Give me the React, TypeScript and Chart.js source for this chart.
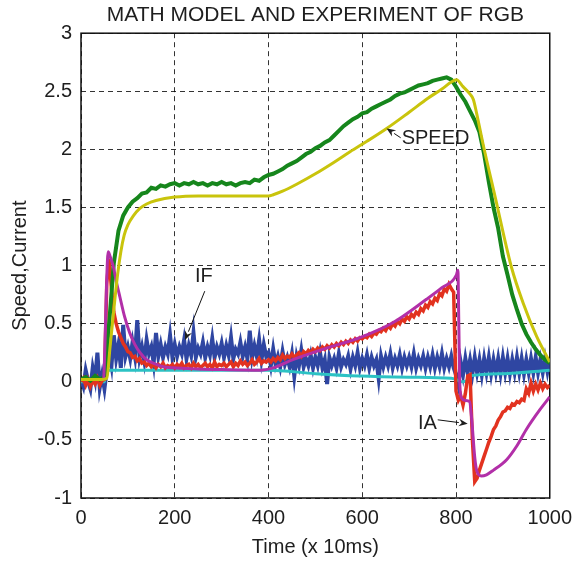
import React, { useEffect, useRef } from 'react';
import { Chart, registerables } from 'chart.js';

Chart.register(...registerables);

const TITLE = 'MATH MODEL AND EXPERIMENT OF RGB';
const X_LABEL = 'Time (x 10ms)';
const Y_LABEL = 'Speed,Current';
const xTicks = [0, 200, 400, 600, 800, 1000];
const yTicks = [-1, -0.5, 0, 0.5, 1, 1.5, 2, 2.5, 3];

// Model speed (yellow)
const speedModelT = [0, 45, 55, 62, 70, 78, 85, 92, 100, 112, 125, 140, 160, 200, 250, 300, 400, 410, 430, 460, 500, 540, 574, 610, 652, 700, 740, 770, 790, 801, 815, 829, 837, 844, 858, 883, 918, 943, 972, 1000];
const speedModelV = [0.02, 0.02, 0.03, 0.3, 0.62, 0.92, 1.12, 1.26, 1.35, 1.43, 1.49, 1.53, 1.56, 1.59, 1.6, 1.6, 1.6, 1.61, 1.64, 1.7, 1.79, 1.89, 1.98, 2.07, 2.18, 2.32, 2.44, 2.52, 2.58, 2.6, 2.54, 2.48, 2.43, 2.31, 2.04, 1.6, 0.99, 0.68, 0.39, 0.17];

// Experimental speed (green), sampled every 10
const SPEED_EXP_STEP = 10;
const speedExp = [
  0.02, 0.04, 0.01, 0.05, 0.02, 0.04, 0.5, 1.02, 1.3, 1.43,
  1.5, 1.55, 1.58, 1.62, 1.63, 1.67, 1.66, 1.69, 1.68, 1.7,
  1.71, 1.69, 1.71, 1.7, 1.72, 1.7, 1.71, 1.69, 1.71, 1.7,
  1.72, 1.7, 1.71, 1.69, 1.71, 1.72, 1.71, 1.74, 1.73, 1.76,
  1.78, 1.79, 1.81, 1.83, 1.86, 1.88, 1.9, 1.93, 1.96, 1.98,
  2.01, 2.03, 2.06, 2.08, 2.12, 2.16, 2.2, 2.23, 2.26, 2.28,
  2.31, 2.32, 2.35, 2.37, 2.39, 2.41, 2.43, 2.46, 2.48, 2.49,
  2.51, 2.53, 2.55, 2.56, 2.57, 2.59, 2.6, 2.61, 2.62, 2.6,
  2.54, 2.47, 2.41, 2.33, 2.25, 2.15, 1.96, 1.72, 1.5, 1.32,
  1.08, 0.92, 0.75, 0.62, 0.5, 0.41, 0.34, 0.28, 0.23, 0.19,
  0.16,
];

// Experimental field current IF (blue), sampled every 5
const IF_EXP_STEP = 5;
const ifExp = [
  0.02, -0.04, 0.1, 0.01, -0.06, 0.12, 0.02, 0.25, -0.05, 0.06, -0.06, 0.1,
  0.26, 0.14, 0.4, 0.2, 0.32, 0.12, 0.49, 0.22,
  0.3, 0.2, 0.34, 0.22, 0.53, 0.21, 0.3, 0.18, 0.36, 0.24, 0.3, 0.16, 0.42, 0.22, 0.32, 0.21, 0.3, 0.24, 0.4, 0.21,
  0.32, 0.22, 0.3, 0.24, 0.36, 0.2, 0.31, 0.23, 0.42, 0.21, 0.29, 0.24, 0.34, 0.21, 0.3, 0.23, 0.37, 0.21, 0.3, 0.24,
  0.33, 0.21, 0.31, 0.23, 0.38, 0.2, 0.28, 0.24, 0.34, 0.22, 0.3, 0.2, 0.44, 0.21, 0.31, 0.22, 0.36, 0.19, 0.32, 0.22,
  0.25, 0.14, 0.28, 0.15, 0.22, 0.13, 0.26, 0.15, 0.21, 0.13, 0.24, 0.05, 0.22, 0.14, 0.27, 0.13, 0.2, 0.14, 0.23, 0.12,
  0.21, 0.14, 0.25, 0.12, 0.19, -0.02, 0.21, 0.14, 0.2, 0.12, 0.24, 0.13, 0.19, 0.15, 0.22, 0.11, 0.21, 0.14, 0.25, 0.12,
  0.2, 0.14, 0.23, 0.12, 0.21, 0.14, 0.19, 0.03, 0.22, 0.13, 0.21, 0.14, 0.24, 0.12, 0.2, 0.14, 0.23, 0.12, 0.21, 0.14,
  0.21, 0.13, 0.24, 0.12, 0.2, 0.14, 0.22, 0.12, 0.21, 0.13, 0.23, 0.12, 0.21, 0.13, 0.24, 0.12, 0.2, 0.13, 0.22, 0.12,
  0.06, -0.03, 0.17, 0.06, 0.2, 0.08, 0.19, 0.07, 0.21, 0.08, 0.19, 0.06, 0.2, 0.08, 0.21, 0.07, 0.19, 0.08, 0.2, 0.07,
  0.21, 0.08, 0.2, 0.07, 0.19, 0.08, 0.21, 0.08, 0.2, 0.07, 0.19, 0.08, 0.2, 0.08, 0.21, 0.08, 0.19, 0.08, 0.2, 0.09, 0.2,
];

// Model field current IF (cyan)
const ifModelT = [0, 50, 53, 57, 400, 500, 595, 700, 790, 800, 812, 825, 829, 900, 1000];
const ifModelV = [0.0, 0.0, 0.08, 0.1, 0.1, 0.07, 0.05, 0.04, 0.03, 0.02, 0.0, 0.01, 0.05, 0.07, 0.1];

// Experimental armature current IA (red), sampled every 5
const IA_EXP_STEP = 5;
const iaExp = [
  0.0, 0.03, -0.03, 0.02, -0.04, 0.01, -0.02, 0.03, -0.03, 0.01,
  0.02, 0.85, 1.06, 0.8, 0.6, 0.5, 0.43, 0.38, 0.33, 0.3,
  0.26, 0.25, 0.21, 0.22, 0.18, 0.2, 0.16, 0.17, 0.14, 0.16, 0.13, 0.15, 0.12, 0.15, 0.13, 0.16, 0.12, 0.14, 0.13, 0.15,
  0.12, 0.15, 0.13, 0.16, 0.12, 0.14, 0.15, 0.12, 0.16, 0.13, 0.15, 0.12, 0.14, 0.16, 0.13, 0.15, 0.12, 0.17, 0.13, 0.15,
  0.14, 0.16, 0.13, 0.15, 0.17, 0.13, 0.16, 0.14, 0.18, 0.15, 0.17, 0.14, 0.16, 0.19, 0.15, 0.17, 0.2, 0.16, 0.18, 0.17,
  0.19, 0.17, 0.2, 0.18, 0.21, 0.19, 0.23, 0.2, 0.22, 0.21, 0.24, 0.21, 0.23, 0.25, 0.22, 0.26, 0.24, 0.27, 0.25, 0.28,
  0.26, 0.29, 0.27, 0.3, 0.28, 0.31, 0.29, 0.32, 0.3, 0.33, 0.31, 0.34, 0.32, 0.35, 0.33, 0.36, 0.34, 0.37, 0.35, 0.38,
  0.37, 0.39, 0.38, 0.41, 0.39, 0.42, 0.41, 0.44, 0.43, 0.46, 0.44, 0.48, 0.46, 0.5, 0.48, 0.52, 0.5, 0.54, 0.52, 0.56,
  0.54, 0.58, 0.56, 0.6, 0.58, 0.63, 0.61, 0.66, 0.64, 0.69, 0.67, 0.72, 0.7, 0.76, 0.74, 0.8, 0.78, 0.84, 0.8, 0.77,
  -0.08, -0.16, -0.12, -0.2, -0.1, 0.05, 0.06, -0.5, -0.86, -0.83, -0.76, -0.7, -0.64, -0.58, -0.52, -0.47, -0.41, -0.38, -0.33, -0.3,
  -0.26, -0.25, -0.22, -0.23, -0.19, -0.2, -0.17, -0.18, -0.15, -0.16, -0.06, -0.1, -0.01, -0.08, -0.02, -0.07, -0.01, -0.06, -0.02, -0.05, -0.03,
];

// Model armature current IA (magenta)
const iaModelT = [0, 48, 52, 55, 58, 62, 69, 76, 83, 93, 104, 115, 126, 140, 154, 175, 197, 250, 300, 382, 410, 452, 524, 595, 666, 737, 770, 801, 804, 806, 808, 812, 820, 829, 833, 840, 844, 854, 865, 880, 908, 930, 950, 979, 1000];
const iaModelV = [0.02, 0.02, 0.45, 0.9, 1.12, 1.08, 0.99, 0.85, 0.73, 0.56, 0.42, 0.32, 0.25, 0.19, 0.16, 0.13, 0.12, 0.11, 0.105, 0.1, 0.12, 0.19, 0.29, 0.38, 0.51, 0.71, 0.81, 0.92, 0.96, 0.5, -0.01, -0.14, -0.16, -0.17, -0.3, -0.65, -0.76, -0.81, -0.8, -0.76, -0.67, -0.55, -0.41, -0.24, -0.13];

// Text annotations with arrows (data coordinates)
const annotations = [
  { label: 'SPEED', textX: 684, textY: 2.09, align: 'left', fromX: 682, fromY: 2.1, toX: 652, toY: 2.18 },
  { label: 'IF', textX: 262, textY: 0.91, align: 'center', fromX: 264, fromY: 0.78, toX: 222, toY: 0.36 },
  { label: 'IA', textX: 739, textY: -0.355, align: 'center', fromX: 761, fromY: -0.327, toX: 825, toY: -0.361 },
];

const FONT = "'Liberation Sans', Arial, Helvetica, sans-serif";
const TEXT = '#1e1e1e';

const pairs = (t: number[], v: number[]) => t.map((x, i) => ({ x, y: v[i] }));
const stepped = (v: number[], step: number) => v.map((y, i) => ({ x: i * step, y }));

const framePlugin = {
  id: 'frameAndNotes',
  beforeDatasetsDraw(chart: any) {
    const { ctx, chartArea: a } = chart;
    ctx.save();
    ctx.strokeStyle = '#111';
    ctx.lineWidth = 1.5;
    ctx.setLineDash([]);
    ctx.strokeRect(a.left, a.top, a.right - a.left, a.bottom - a.top);
    ctx.restore();
  },
  afterDatasetsDraw(chart: any) {
    const { ctx, scales } = chart;
    const xs = scales.x;
    const ys = scales.y;
    ctx.save();
    ctx.font = `20px ${FONT}`;
    ctx.fillStyle = TEXT;
    ctx.strokeStyle = '#111';
    ctx.lineWidth = 1;
    ctx.textBaseline = 'middle';
    annotations.forEach((n) => {
      ctx.textAlign = n.align;
      ctx.fillText(n.label, xs.getPixelForValue(n.textX), ys.getPixelForValue(n.textY));
      const x0 = xs.getPixelForValue(n.fromX);
      const y0 = ys.getPixelForValue(n.fromY);
      const x1 = xs.getPixelForValue(n.toX);
      const y1 = ys.getPixelForValue(n.toY);
      const ang = Math.atan2(y1 - y0, x1 - x0);
      const L = 9;
      const W = 3.8;
      const bx = x1 - L * Math.cos(ang);
      const by = y1 - L * Math.sin(ang);
      ctx.beginPath();
      ctx.moveTo(x0, y0);
      ctx.lineTo(bx, by);
      ctx.stroke();
      ctx.beginPath();
      ctx.moveTo(x1, y1);
      ctx.lineTo(bx + W * Math.sin(ang), by - W * Math.cos(ang));
      ctx.lineTo(x1 - (L - 3) * Math.cos(ang), y1 - (L - 3) * Math.sin(ang));
      ctx.lineTo(bx - W * Math.sin(ang), by + W * Math.cos(ang));
      ctx.closePath();
      ctx.fill();
    });
    ctx.restore();
  },
};

export default function App() {
  const ref = useRef<HTMLCanvasElement | null>(null);

  useEffect(() => {
    if (!ref.current) return;
    const gridCommon = {
      color: 'rgba(0,0,0,0.8)',
      lineWidth: 1,
      drawTicks: false,
    };
    const chart = new Chart(ref.current, {
      type: 'line',
      data: {
        datasets: [
          { label: 'speed model', data: pairs(speedModelT, speedModelV), borderColor: '#c9c40c', borderWidth: 3, pointRadius: 0, cubicInterpolationMode: 'monotone', order: 1 },
          { label: 'IA model', data: pairs(iaModelT, iaModelV), borderColor: '#b22fa8', borderWidth: 3, pointRadius: 0, cubicInterpolationMode: 'monotone', order: 2 },
          { label: 'speed exp', data: stepped(speedExp, SPEED_EXP_STEP), borderColor: '#16861c', borderWidth: 4, pointRadius: 0, order: 3 },
          { label: 'IA exp', data: stepped(iaExp, IA_EXP_STEP), borderColor: '#e2321f', borderWidth: 3.5, pointRadius: 0, order: 4 },
          { label: 'IF model', data: pairs(ifModelT, ifModelV), borderColor: '#2cc2c4', borderWidth: 3, pointRadius: 0, cubicInterpolationMode: 'monotone', order: 5 },
          { label: 'IF exp', data: stepped(ifExp, IF_EXP_STEP), borderColor: '#2f46a2', borderWidth: 4, pointRadius: 0, order: 6 },
        ],
      },
      options: {
        animation: false,
        responsive: true,
        maintainAspectRatio: false,
        layout: { padding: { left: 0, right: 30, top: 0, bottom: 0 } },
        plugins: {
          legend: { display: false },
          tooltip: { enabled: false },
          title: {
            display: true,
            text: TITLE,
            fullSize: false,
            color: TEXT,
            font: { family: FONT, size: 21, weight: 'normal' },
            padding: { top: 3, bottom: 5 },
          },
        },
        scales: {
          x: {
            type: 'linear',
            min: xTicks[0],
            max: xTicks[xTicks.length - 1],
            afterBuildTicks: (s: any) => { s.ticks = xTicks.map((value) => ({ value })); },
            afterFit: (s: any) => { s.height = 63; },
            grid: gridCommon,
            border: { display: false, dash: [5, 4] },
            ticks: {
              color: TEXT,
              font: { family: FONT, size: 20 },
              padding: 8,
              maxRotation: 0,
              callback: (v: any) => String(v),
            },
            title: {
              display: true,
              text: X_LABEL,
              color: TEXT,
              font: { family: FONT, size: 20 },
              padding: { top: 0, bottom: 2 },
            },
          },
          y: {
            type: 'linear',
            min: yTicks[0],
            max: yTicks[yTicks.length - 1],
            afterBuildTicks: (s: any) => { s.ticks = yTicks.map((value) => ({ value })); },
            afterFit: (s: any) => { s.width = 81; },
            grid: gridCommon,
            border: { display: false, dash: [5, 4] },
            ticks: {
              color: TEXT,
              font: { family: FONT, size: 20 },
              padding: 9,
              callback: (v: any) => String(v),
            },
            title: {
              display: true,
              text: Y_LABEL,
              color: TEXT,
              font: { family: FONT, size: 20 },
              padding: { top: 8, bottom: 0 },
            },
          },
        },
      },
      plugins: [framePlugin],
    } as any);
    return () => chart.destroy();
  }, []);

  return (
    <div style={{ position: 'absolute', left: 0, top: 0, width: 580, height: 561, background: '#fff' }}>
      <canvas ref={ref} />
    </div>
  );
}
